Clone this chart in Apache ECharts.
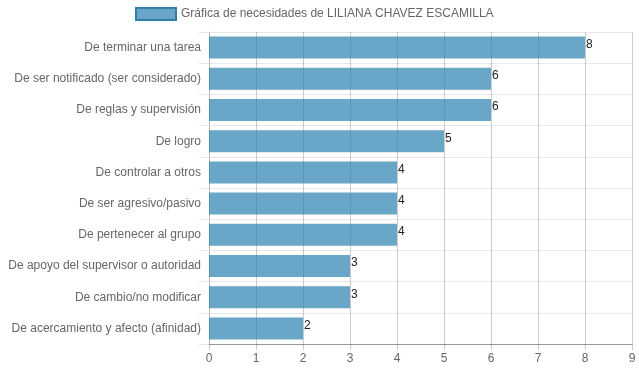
<!DOCTYPE html>
<html><head><meta charset="utf-8">
<script src="https://cdn.jsdelivr.net/npm/echarts@6/dist/echarts.min.js"></script>
<style>html,body{margin:0;padding:0;background:#fff}#c{width:639px;height:372px}</style>
</head><body><div id="c"></div>
<script>
const categories = ["De terminar una tarea","De ser notificado (ser considerado)","De reglas y supervisión","De logro","De controlar a otros","De ser agresivo/pasivo","De pertenecer al grupo","De apoyo del supervisor o autoridad","De cambio/no modificar","De acercamiento y afecto (afinidad)"];
const values = [8,6,6,5,4,4,4,3,3,2];
const seriesName = "Gráfica de necesidades de LILIANA CHAVEZ ESCAMILLA";
const font = "'Liberation Sans', Arial, sans-serif";
const chart = echarts.init(document.getElementById('c'));
chart.setOption({
  animation:false,
  textStyle:{fontFamily:font},
  legend:{top:2,left:130,itemWidth:40,itemHeight:12,itemGap:6,
    textStyle:{color:'#666',fontSize:12,fontFamily:font},
    data:[{name:seriesName,icon:'rect',itemStyle:{color:'rgba(41,128,175,0.7)',borderColor:'#3180ab',borderWidth:2}}]},
  grid:{left:209,right:7,top:32,bottom:28,containLabel:false},
  xAxis:{type:'value',min:0,max:9,interval:1,
    axisLine:{show:true,lineStyle:{color:'#999'}},
    axisTick:{show:true,length:6,lineStyle:{color:'rgba(0,0,0,0.2)'}},
    axisLabel:{color:'#666',fontSize:12,fontFamily:font,margin:9},
    splitLine:{show:true,lineStyle:{color:'rgba(0,0,0,0.2)'}}},
  yAxis:{type:'category',data:categories,inverse:true,
    axisLine:{show:true,lineStyle:{color:'#bbb'}},
    axisTick:{show:true,length:10,lineStyle:{color:'#e8e8e8'}},
    axisLabel:{color:'#666',fontSize:12,fontFamily:font,margin:8},
    splitLine:{show:true,lineStyle:{color:'#e8e8e8'}}},
  series:[{name:seriesName,type:'bar',data:values,barCategoryGap:'29.5%',
    itemStyle:{color:'rgba(41,128,175,0.7)'},
    label:{show:true,position:'right',distance:1,color:'#222',fontSize:12,fontFamily:font,offset:[0,-3]}}]
});
</script></body></html>
